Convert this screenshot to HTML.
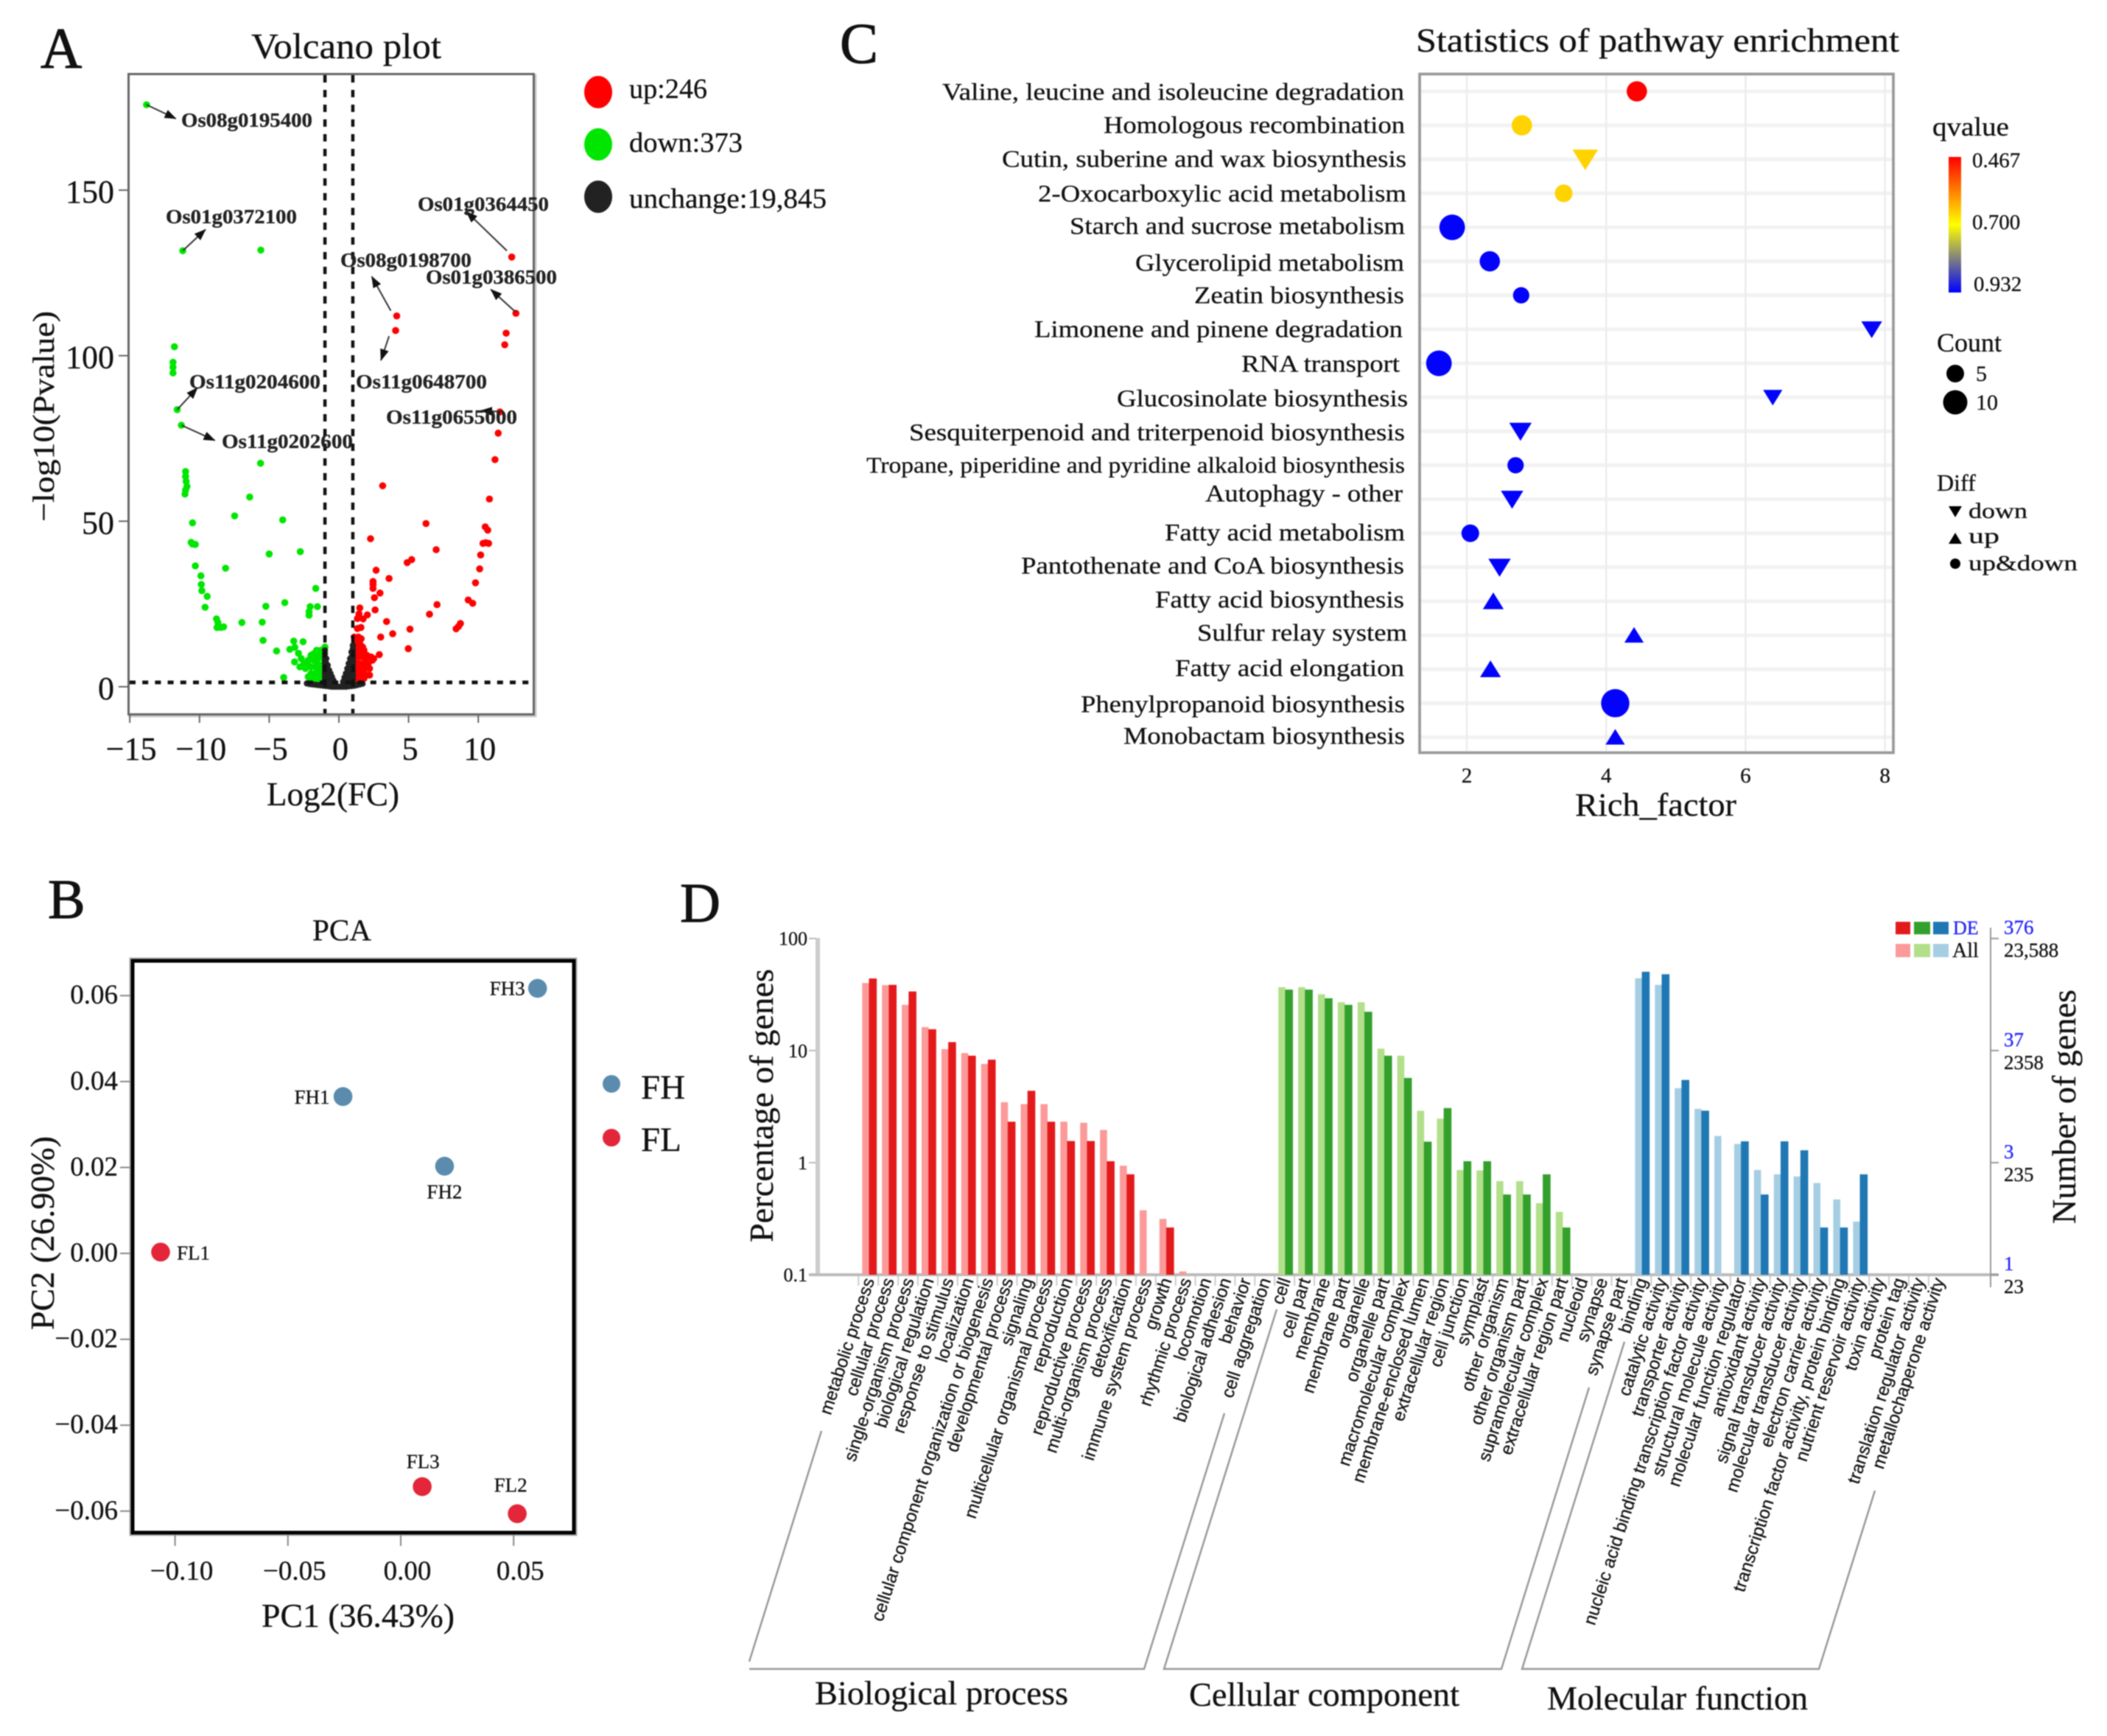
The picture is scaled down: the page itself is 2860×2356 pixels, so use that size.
<!DOCTYPE html>
<html lang="en">
<head>
<meta charset="utf-8">
<title>Transcriptome figure: volcano, PCA, pathway enrichment, GO classification</title>
<style>
html,body{margin:0;padding:0;background:#fff;width:2860px;height:2356px;overflow:hidden}
svg{display:block;filter:blur(0.7px);font-family:"Liberation Serif",serif}
text{fill:#111;stroke:#111;stroke-width:.3px}
.lab{font-weight:bold;font-size:27px;fill:#222}
.c{font-size:33px}
.go{font-family:"Liberation Sans",sans-serif;font-size:24px}
</style>
</head>
<body>
<svg id="fig" xmlns="http://www.w3.org/2000/svg" width="2860" height="2356" viewBox="0 0 2860 2356">
<defs>
<marker id="ah" markerWidth="16" markerHeight="12" refX="15" refY="6" orient="auto" markerUnits="userSpaceOnUse"><polygon points="0,0 16,6 0,12" fill="#111"/></marker>
<linearGradient id="qg" x1="0" y1="0" x2="0" y2="1"><stop offset="0" stop-color="#ff0000"/><stop offset="0.5" stop-color="#ffff00"/><stop offset="1" stop-color="#0000ff"/></linearGradient>
</defs>

<!-- Panel letters -->
<text x="55" y="92" font-size="78" style="stroke-width:1px">A</text>
<text x="65" y="1246" font-size="76" style="stroke-width:1px">B</text>
<text x="1140" y="85" font-size="78" style="stroke-width:1px">C</text>
<text x="923" y="1251" font-size="76" style="stroke-width:1px">D</text>

<!-- Panel A static -->
<g id="panelA">
<text x="341" y="79" font-size="49" textLength="258" lengthAdjust="spacingAndGlyphs">Volcano plot</text>
<rect x="176" y="102" width="551" height="870" fill="none" stroke="#ccc" stroke-width="3"/>
<rect x="174.5" y="100.5" width="550" height="869" fill="#fff" stroke="#666" stroke-width="3"/>
<text transform="translate(73,708) rotate(-90)" font-size="41" textLength="286" lengthAdjust="spacingAndGlyphs">−log10(Pvalue)</text>
<text x="362" y="1093" font-size="45" textLength="180" lengthAdjust="spacingAndGlyphs">Log2(FC)</text>
<ellipse cx="812" cy="125" rx="19" ry="22" fill="#ff0000"/>
<ellipse cx="812" cy="196" rx="19" ry="22" fill="#00e600"/>
<ellipse cx="812" cy="267" rx="19" ry="22" fill="#222"/>
<text x="854" y="133" font-size="38" textLength="106" lengthAdjust="spacingAndGlyphs">up:246</text>
<text x="854" y="206" font-size="38" textLength="154" lengthAdjust="spacingAndGlyphs">down:373</text>
<text x="854" y="282" font-size="38" textLength="268" lengthAdjust="spacingAndGlyphs">unchange:19,845</text>
</g>
<g id="volcanoMarks"></g>
<g id="volcanoLabels">
<text class="lab" x="246" y="172" textLength="178" lengthAdjust="spacingAndGlyphs">Os08g0195400</text>
<text class="lab" x="225" y="303" textLength="178" lengthAdjust="spacingAndGlyphs">Os01g0372100</text>
<text class="lab" x="567" y="286" textLength="178" lengthAdjust="spacingAndGlyphs">Os01g0364450</text>
<text class="lab" x="462" y="362" textLength="178" lengthAdjust="spacingAndGlyphs">Os08g0198700</text>
<text class="lab" x="578" y="385" textLength="178" lengthAdjust="spacingAndGlyphs">Os01g0386500</text>
<text class="lab" x="483" y="527" textLength="178" lengthAdjust="spacingAndGlyphs">Os11g0648700</text>
<text class="lab" x="257" y="527" textLength="178" lengthAdjust="spacingAndGlyphs">Os11g0204600</text>
<text class="lab" x="301" y="608" textLength="178" lengthAdjust="spacingAndGlyphs">Os11g0202600</text>
<text class="lab" x="524" y="575" textLength="178" lengthAdjust="spacingAndGlyphs">Os11g0655000</text>
</g>

<!-- Panel B static -->
<g id="panelB">
<text x="424" y="1276" font-size="41" textLength="80" lengthAdjust="spacingAndGlyphs">PCA</text>
<rect x="179" y="1303" width="601" height="778" fill="none" stroke="#aaa" stroke-width="7"/>
<rect x="180" y="1304" width="599" height="776" fill="#fff" stroke="#000" stroke-width="5"/>
<text transform="translate(73,1805) rotate(-90)" font-size="45" textLength="263" lengthAdjust="spacingAndGlyphs">PC2 (26.90%)</text>
<text x="355" y="2208" font-size="45" textLength="262" lengthAdjust="spacingAndGlyphs">PC1 (36.43%)</text>
<circle cx="830" cy="1471" r="12" fill="#5b8cad"/>
<circle cx="830" cy="1544" r="12" fill="#e3263a"/>
<text x="870" y="1491" font-size="47">FH</text>
<text x="870" y="1562" font-size="47">FL</text>
</g>
<g id="pcaMarks"></g>

<!-- Panel C static -->
<g id="panelC">
<text x="1922" y="70" font-size="46" textLength="656" lengthAdjust="spacingAndGlyphs">Statistics of pathway enrichment</text>
<rect x="1927" y="100.5" width="643" height="921" fill="#fff" stroke="#999" stroke-width="3.5"/>
<g id="pathwayGrid"></g>
<rect x="1927" y="100.5" width="643" height="921" fill="none" stroke="#999" stroke-width="3.5"/>
<g text-anchor="end" transform="translate(0,1.5)">
<text class="c" x="1906" y="134" textLength="627" lengthAdjust="spacingAndGlyphs">Valine, leucine and isoleucine degradation</text>
<text class="c" x="1907" y="179" textLength="409" lengthAdjust="spacingAndGlyphs">Homologous recombination</text>
<text class="c" x="1909" y="225" textLength="549" lengthAdjust="spacingAndGlyphs">Cutin, suberine and wax biosynthesis</text>
<text class="c" x="1909" y="272" textLength="500" lengthAdjust="spacingAndGlyphs">2-Oxocarboxylic acid metabolism</text>
<text class="c" x="1907" y="316" textLength="455" lengthAdjust="spacingAndGlyphs">Starch and sucrose metabolism</text>
<text class="c" x="1906" y="366" textLength="365" lengthAdjust="spacingAndGlyphs">Glycerolipid metabolism</text>
<text class="c" x="1906" y="410" textLength="285" lengthAdjust="spacingAndGlyphs">Zeatin biosynthesis</text>
<text class="c" x="1904" y="456" textLength="500" lengthAdjust="spacingAndGlyphs">Limonene and pinene degradation</text>
<text class="c" x="1900" y="503" textLength="215" lengthAdjust="spacingAndGlyphs">RNA transport</text>
<text class="c" x="1911" y="550" textLength="395" lengthAdjust="spacingAndGlyphs">Glucosinolate biosynthesis</text>
<text class="c" x="1907" y="596" textLength="673" lengthAdjust="spacingAndGlyphs">Sesquiterpenoid and triterpenoid biosynthesis</text>
<text class="c" style="font-size:31px" x="1907" y="640" textLength="731" lengthAdjust="spacingAndGlyphs">Tropane, piperidine and pyridine alkaloid biosynthesis</text>
<text class="c" x="1904" y="679" textLength="268" lengthAdjust="spacingAndGlyphs">Autophagy - other</text>
<text class="c" x="1907" y="732" textLength="326" lengthAdjust="spacingAndGlyphs">Fatty acid metabolism</text>
<text class="c" x="1906" y="777" textLength="520" lengthAdjust="spacingAndGlyphs">Pantothenate and CoA biosynthesis</text>
<text class="c" x="1906" y="823" textLength="338" lengthAdjust="spacingAndGlyphs">Fatty acid biosynthesis</text>
<text class="c" x="1910" y="868" textLength="285" lengthAdjust="spacingAndGlyphs">Sulfur relay system</text>
<text class="c" x="1906" y="916" textLength="311" lengthAdjust="spacingAndGlyphs">Fatty acid elongation</text>
<text class="c" x="1907" y="965" textLength="440" lengthAdjust="spacingAndGlyphs">Phenylpropanoid biosynthesis</text>
<text class="c" x="1907" y="1008" textLength="382" lengthAdjust="spacingAndGlyphs">Monobactam biosynthesis</text>
</g>
<text x="2138" y="1107" font-size="44" textLength="219" lengthAdjust="spacingAndGlyphs">Rich_factor</text>
<text x="2623" y="184" font-size="36" textLength="104" lengthAdjust="spacingAndGlyphs">qvalue</text>
<rect x="2645" y="213" width="17" height="184" fill="url(#qg)"/>
<text x="2677" y="227" font-size="29">0.467</text>
<text x="2677" y="311" font-size="29">0.700</text>
<text x="2679" y="395" font-size="29">0.932</text>
<text x="2629" y="477" font-size="36">Count</text>
<circle cx="2654" cy="507" r="12" fill="#000"/>
<circle cx="2654" cy="546" r="16.5" fill="#000"/>
<text x="2682" y="517" font-size="30">5</text>
<text x="2682" y="556" font-size="30">10</text>
<text x="2629" y="666" font-size="32">Diff</text>
<polygon points="2645,687 2663,687 2654,702" fill="#000"/>
<polygon points="2645,738 2663,738 2654,723" fill="#000"/>
<circle cx="2654" cy="765" r="7" fill="#000"/>
<text x="2672" y="703" font-size="30" textLength="80" lengthAdjust="spacingAndGlyphs">down</text>
<text x="2672" y="737" font-size="30" textLength="42" lengthAdjust="spacingAndGlyphs">up</text>
<text x="2672" y="774" font-size="30" textLength="148" lengthAdjust="spacingAndGlyphs">up&amp;down</text>
</g>
<g id="pathwayMarks"></g>

<!-- Panel D static -->
<g id="panelD">
<text transform="translate(1049,1686) rotate(-90)" font-size="45" textLength="371" lengthAdjust="spacingAndGlyphs">Percentage of genes</text>
<text transform="translate(2817,1661) rotate(-90)" font-size="46" textLength="318" lengthAdjust="spacingAndGlyphs">Number of genes</text>
<rect x="1107" y="1273" width="6" height="459" fill="#ccc"/>
<rect x="1098" y="1728" width="1615" height="4" fill="#bbb"/>
<rect x="2701" y="1259" width="2" height="488" fill="#999"/>
<g>
<rect x="2573" y="1251" width="20" height="17" fill="#e31a1c"/>
<rect x="2598" y="1251" width="22" height="17" fill="#33a02c"/>
<rect x="2624" y="1251" width="21" height="17" fill="#1f78b4"/>
<rect x="2573" y="1281" width="20" height="18" fill="#fb9a99"/>
<rect x="2598" y="1281" width="22" height="18" fill="#b2df8a"/>
<rect x="2624" y="1281" width="21" height="18" fill="#a6cee3"/>
<text x="2651" y="1268" font-size="26" style="fill:#2222ff;stroke:#2222ff">DE</text>
<text x="2650" y="1299" font-size="28">All</text>
</g>
<path d="M1115,1942 L1017,2255 M1017,2265 L1553,2265 L1662,1918" fill="none" stroke="#999" stroke-width="2.5"/>
<path d="M1733,1777 L1580,2265 L2038,2265 L2157,1883" fill="none" stroke="#999" stroke-width="2.5"/>
<path d="M2205,1821 L2066,2265 L2469,2265 L2545,2023" fill="none" stroke="#999" stroke-width="2.5"/>
<text x="1106" y="2313" font-size="46" textLength="344" lengthAdjust="spacingAndGlyphs">Biological process</text>
<text x="1614" y="2315" font-size="46" textLength="367" lengthAdjust="spacingAndGlyphs">Cellular component</text>
<text x="2100" y="2320" font-size="46" textLength="354" lengthAdjust="spacingAndGlyphs">Molecular function</text>
</g>
<g id="goMarks"></g>
</svg>

<script>
/* ---------- Panel A data ---------- */
const volcanoXTicks = [-15, -10, -5, 0, 5, 10];
const volcanoYTicks = [0, 50, 100, 150];
const volcanoThresholdFC = [-1, 1];
const volcanoThresholdP = 1.3;
const downGenes = [[-13.8,175.8],[-11.2,131.7],[-5.6,131.9],[-11.8,102.7],[-11.9,98],[-11.9,96.5],[-11.9,94.8],[-11.6,83.7],[-11.3,79],
[-5.62,67.5],[-11,65],[-11,63.5],[-10.96,62],[-10.9,60.5],[-11,59.4],[-11.04,58.2],[-6.4,57.3],[-7.48,51.6],[-4.03,50.4],[-10.5,49.5],
[-10.6,43.6],[-10.5,43.1],[-10.3,43],[-2.77,40.8],[-5,40.1],[-10.3,36.5],[-8.13,35.8],[-9.9,33.5],[-9.87,30.9],[-9.83,29],[-9.45,27.3],
[-9.6,24],[-1.66,29.7],[-3.88,25.4],[-5.24,24.3],[-1.54,24.2],[-2.06,24.2],[-2.14,22.7],[-2.14,21.6],[-8.78,20.5],[-8.68,19.4],[-8.74,17.9],
[-8.47,17.9],[-8.27,18.1],[-6.96,19.4],[-5.5,19.5],[-5.44,14],[-4.47,10.8],[-3.24,13.8],[-2.57,13.6],[-3.52,11.3],[-3.16,11.9],[-2.9,10.1],
[-3.18,7.5],[-3.96,2.8],[-1,12],[-1.1,11],[-1.3,11],[-1.5,10],[-1.8,10],[-2,9.5],[-1.2,9],[-1.5,8.5],[-1.8,8],[-2.2,8],[-2.5,7],[-1.1,7],
[-1.4,6.5],[-1.7,6],[-2,6],[-2.4,5.5],[-1.1,5],[-1.4,4.5],[-1.7,4],[-2,4],[-2.2,3],[-1.1,3],[-1.4,2.5],[-1.7,2.5],[-2,2],[-1.2,1.7],[-1.5,1.6],
[-1.8,1.6],[-1.1,10],[-1.6,11],[-2.2,6.5],[-1.6,7.5],[-1.3,4],[-1.9,3],[-2.7,8.5],[-2.8,6]];
const upGenes = [[12.4,129.8],[12.7,112.8],[4.15,112],[4.07,107.6],[12,106.8],[11.9,103.3],[11.55,83],[11.43,76.6],[11.2,68.6],
[3.14,60.7],[10.8,56.7],[6.25,49.3],[10.5,48.3],[10.68,47.3],[10.34,43.3],[10.54,43.5],[10.74,43.3],[2.27,44.7],[6.98,41.4],[5.22,38.4],[4.9,37.5],
[10.17,39.8],[10.1,35.6],[2.67,35.2],[3.6,32.7],[2.45,31.8],[2.45,30.9],[2.45,29.7],[9.8,31.4],[2.95,28.3],[2.55,26.9],[9.28,26.2],[9.6,25.2],
[7.04,24.8],[6.5,21.9],[2.6,23.2],[1.5,23.8],[1.44,22],[2.04,21.7],[1.74,20.5],[1.33,20.6],[3.42,19.7],[8.72,19.1],[8.58,18.2],[8.41,17.5],
[5.1,17.4],[3.86,16],[1.33,17.6],[1.58,17.9],[3,15],[4.98,11.5],[2.9,9.7],[1.1,15],[1.4,15],[1.6,14.5],[1.2,13.5],[1.5,13],[1.7,12],[1.2,12],
[1.4,11],[1.8,11],[1.1,11],[1.6,10],[2,9.5],[2.3,9],[1.2,9.5],[1.5,9],[1.9,8.5],[2.4,8],[1.1,8],[1.4,7],[1.7,7],[2.1,7],[2.5,8.5],[1.2,6],[1.5,5.5],
[1.9,5.5],[2.2,5.5],[1.1,4.5],[1.4,4],[1.7,4],[2,3.5],[2.2,3.5],[1.2,3],[1.5,2.5],[1.8,2.5],[1.1,2],[1.4,1.8]];
const unchangedGenes = [[-2.3,1],[-2.1,.8],[-1.9,.7],[-1.7,.6],[-1.5,.5],[-1.3,.4],[-1.1,.3],[-.9,.2],[-.7,.1],[-.5,0],[-.3,0],[-.1,0],[.1,0],[.3,0],[.5,0],[.7,.1],[.9,.2],[1.1,.3],[1.3,.5],[1.5,.7],[1.7,.9],
[-1,11],[-1,10],[-1,9],[-1,8],[-1,7],[-1,6],[-1,5],[-1,4],[-1,3],[-1,2],[-1,1],[-.9,8.5],[-.9,7],[-.9,5.5],[-.9,4],[-.9,2.5],[-.9,1],[-.8,6.5],[-.8,5],[-.8,3.5],[-.8,2],[-.8,1],[-.7,5],[-.7,3.5],[-.7,2],[-.7,1],[-.6,4],[-.6,2.5],[-.6,1.2],[-.5,3],[-.5,1.8],[-.4,2],[-.4,1],[-.3,1.2],
[1,12.5],[1,11.5],[1,10.5],[1,9.5],[1,8.5],[1,7.5],[1,6.5],[1,5.5],[1,4.5],[1,3.5],[1,2.5],[1,1.5],[.9,10.5],[.9,9],[.9,7.5],[.9,6],[.9,4.5],[.9,3],[.9,1.5],[.8,8.5],[.8,7],[.8,5.5],[.8,4],[.8,2.5],[.8,1],[.7,7],[.7,5.5],[.7,4],[.7,2.5],[.7,1],[.6,5.5],[.6,4],[.6,2.5],[.6,1],[.5,4],[.5,2.5],[.5,1],[.4,2.8],[.4,1.5],[.3,1.5]];
const arrowStarts = [[-13.8,175.8],[-11.2,131.7],[12.05,131.7],[3.72,113.6],[12.7,113.1],[3.6,105.9],[-11.6,83.7],[-11.3,79],[11.55,83.1]];
const arrowTips = [[-11.7,171.6],[-9.57,138.1],[9.15,143.5],[2.36,123.9],[10.9,120],[3.02,98.6],[-10.15,90.3],[-8.9,74.4],[10.2,83.4]];

/* ---------- Panel B data ---------- */
const pcaXTicks = [-0.10, -0.05, 0.00, 0.05];
const pcaYTicks = [0.06, 0.04, 0.02, 0.00, -0.02, -0.04, -0.06];
const pcaSamples = ['FH3', 'FH1', 'FH2', 'FL1', 'FL3', 'FL2'];
const pcaPC1 = [0.0606, -0.0256, 0.0194, -0.1064, 0.0095, 0.0516];
const pcaPC2 = [0.0617, 0.0365, 0.0203, 0.0003, -0.0543, -0.0606];
const pcaGroup = ['FH', 'FH', 'FH', 'FL', 'FL', 'FL'];

/* ---------- Panel C data ---------- */
const richTicks = [2, 4, 6, 8];
const richFactor = [4.44,2.79,3.7,3.39,1.79,2.33,2.78,7.81,1.6,6.39,2.77,2.7,2.65,2.05,2.47,2.38,4.4,2.34,4.13,4.13];
const pathwayCount = [7,7,8,5,11,7,4,5,11,4,6,4,6,5,6,5,4,5,13,4];
const pathwayQ = [0.467,0.66,0.66,0.66,0.93,0.93,0.93,0.93,0.93,0.93,0.93,0.93,0.93,0.93,0.93,0.93,0.93,0.93,0.93,0.93];
const pathwayDiff = ['both','both','down','both','both','both','both','down','both','down','down','both','down','both','down','up','up','up','both','up'];

/* ---------- Panel D data ---------- */
const goLeftTicks = [100, 10, 1, 0.1];
const goLeftTickLabels = ['100', '10', '1', '0.1'];
const goDeTickLabels = ['376', '37', '3', '1'];
const goAllTickLabels = ['23,588', '2358', '235', '23'];
const goCategories = ['metabolic process','cellular process','single-organism process','biological regulation','response to stimulus','localization','cellular component organization or biogenesis','developmental process','signaling','multicellular organismal process','reproduction','reproductive process','multi-organism process','detoxification','immune system process','growth','rhythmic process','locomotion','biological adhesion','behavior','cell aggregation',
'cell','cell part','membrane','membrane part','organelle','organelle part','macromolecular complex','membrane-enclosed lumen','extracellular region','cell junction','symplast','other organism','other organism part','supramolecular complex','extracellular region part','nucleoid','synapse','synapse part',
'binding','catalytic activity','transporter activity','nucleic acid binding transcription factor activity','structural molecule activity','molecular function regulator','antioxidant activity','signal transducer activity','molecular transducer activity','electron carrier activity','transcription factor activity, protein binding','nutrient reservoir activity','toxin activity','protein tag','translation regulator activity','metallochaperone activity'];
const goAllPct = [40.1,38.4,25.6,16.2,10.3,9.5,7.6,3.46,3.33,3.33,2.32,2.27,1.96,0.94,0.376,0.315,0.107,null,null,null,null,
36.8,36.8,31.8,27,27,10.4,9,2.9,2.47,0.861,0.853,0.684,0.684,0.435,0.364,null,null,null,
44.2,38.6,4.62,3.02,1.73,1.47,0.861,0.787,0.753,0.658,0.47,0.298,null,null,null,null];
const goDePct = [44,38.6,33.7,15.5,11.9,9,8.3,2.32,4.38,2.32,1.56,1.56,1.03,0.787,null,0.264,null,null,null,null,null,
35,35,29.3,25.6,22.2,9,5.7,1.54,3.07,1.03,1.03,0.52,0.52,0.787,0.264,null,null,null,
50.5,48,5.47,2.91,null,1.55,0.52,1.55,1.29,0.264,0.264,0.787,null,null,null,null];
const goDomainStart = [0, 21, 39];
const goLightColors = ['#fb9a99', '#b2df8a', '#a6cee3'];
const goDarkColors = ['#e31a1c', '#33a02c', '#1f78b4'];

/* ---------- helpers ---------- */
const NS = 'http://www.w3.org/2000/svg';
function el(tag, parent, attrs) {
  const e = document.createElementNS(NS, tag);
  for (const k in attrs) e.setAttribute(k, attrs[k]);
  parent.appendChild(e);
  return e;
}
function fmt(v, d) { return (v < 0 ? '\u2212' : '') + Math.abs(v).toFixed(d); }

/* ---------- Panel A ---------- */
const vx = v => 460 + v * 18.92;
const vy = v => 932 - v * 4.493;
const gV = document.getElementById('volcanoMarks');
volcanoXTicks.forEach(t => {
  const l = el('line', gV, {x1: vx(t), x2: vx(t), y1: 970, y2: 981, stroke: '#666', 'stroke-width': 2});
  
  
  const s = el('text', gV, {x: vx(t) + 2, y: 1031, 'font-size': 44, 'text-anchor': 'middle'});
  
  
  s.textContent = fmt(t, 0);
});
volcanoYTicks.forEach(t => {
  const l = el('line', gV, {x1: 161, x2: 174, y1: vy(t), y2: vy(t), stroke: '#666', 'stroke-width': 2});
  
  
  const s = el('text', gV, {x: 155, y: vy(t) + 17, 'font-size': 44, 'text-anchor': 'end'});
  
  
  s.textContent = fmt(t, 0);
});
downGenes.forEach(p => {
  const c = el('circle', gV, {cx: vx(p[0]), cy: vy(p[1]), r: 4.8, fill: '#00e600'});
  
  
});
upGenes.forEach(p => {
  const c = el('circle', gV, {cx: vx(p[0]), cy: vy(p[1]), r: 4.8, fill: '#ff0000'});
  
  
});
unchangedGenes.forEach(p => {
  const c = el('circle', gV, {cx: vx(p[0]), cy: vy(p[1]), r: 4.2, fill: '#222'});
  
  
});
volcanoThresholdFC.forEach(t => {
  const l = el('line', gV, {x1: vx(t), x2: vx(t), y1: 102, y2: 968, stroke: '#111', 'stroke-width': 4.5, 'stroke-dasharray': '10 10'});
  
  
});
const pLine = el('line', gV, {x1: 176, x2: 718, y1: vy(volcanoThresholdP), y2: vy(volcanoThresholdP), stroke: '#111', 'stroke-width': 5, 'stroke-dasharray': '8 9.2'});


arrowStarts.forEach((a, i) => {
  const b = arrowTips[i];
  const l = el('line', gV, {x1: vx(a[0]), y1: vy(a[1]), x2: vx(b[0]), y2: vy(b[1]), stroke: '#333', 'stroke-width': 2, 'marker-end': 'url(#ah)'});
  
  
});

/* ---------- Panel B ---------- */
const px = v => 544 + v * 3064;
const py = v => 1701 - v * 5830;
const gP = document.getElementById('pcaMarks');
pcaXTicks.forEach(t => {
  const l = el('line', gP, {x1: px(t), x2: px(t), y1: 2083, y2: 2098, stroke: '#888', 'stroke-width': 2});
  
  
  const s = el('text', gP, {x: px(t) + 9, y: 2144, 'font-size': 37, 'text-anchor': 'middle'});
  
  
  s.textContent = fmt(t, 2);
});
pcaYTicks.forEach(t => {
  const l = el('line', gP, {x1: 163, x2: 177, y1: py(t), y2: py(t), stroke: '#888', 'stroke-width': 2});
  
  
  const s = el('text', gP, {x: 160, y: py(t) + 11, 'font-size': 37, 'text-anchor': 'end'});
  
  
  s.textContent = fmt(t, 2);
});
const pcaLabelPlace = {FH3: [-17, 9, 'end'], FH1: [-18, 10, 'end'], FH2: [0, 44, 'middle'], FL1: [22, 10, 'start'], FL3: [1, -25, 'middle'], FL2: [-9, -30, 'middle']};
pcaSamples.forEach((name, i) => {
  const c = el('circle', gP, {cx: px(pcaPC1[i]), cy: py(pcaPC2[i]), r: 12.8, fill: pcaGroup[i] === 'FH' ? '#5b8cad' : '#e3263a'});
  
  
  const o = pcaLabelPlace[name];
  const s = el('text', gP, {x: px(pcaPC1[i]) + o[0], y: py(pcaPC2[i]) + o[1], 'font-size': 27, 'text-anchor': o[2]});
  
  
  s.textContent = name;
});

/* ---------- Panel C ---------- */
const rx = v => 1991 + (v - 2) * 94.6;
const rowY = i => 124 + i * 46.13;
function qColor(q) {
  const m = (a, b, t) => Math.round(a + (b - a) * t);
  if (q <= 0.7) { const t = (q - 0.467) / 0.233; return 'rgb(255,' + m(0, 255, t) + ',0)'; }
  const t = (q - 0.7) / 0.232;
  return 'rgb(' + m(255, 0, t) + ',' + m(255, 0, t) + ',' + m(0, 255, t) + ')';
}
const gG = document.getElementById('pathwayGrid');
richFactor.forEach((_, i) => {
  const l = el('line', gG, {x1: 1929, x2: 2568, y1: rowY(i), y2: rowY(i), stroke: '#f2f2f2', 'stroke-width': 5});
  
  
});
richTicks.forEach(t => {
  const l = el('line', gG, {x1: rx(t), x2: rx(t), y1: 102, y2: 1020, stroke: '#ececec', 'stroke-width': 2.5});
  
  
});
const gC = document.getElementById('pathwayMarks');
richTicks.forEach(t => {
  const s = el('text', gC, {x: rx(t), y: 1062, 'font-size': 29, 'text-anchor': 'middle'});
  
  
  s.textContent = String(t);
});
richFactor.forEach((v, i) => {
  const x = rx(v), y = rowY(i), r = 7.5 + 0.9 * pathwayCount[i], col = qColor(pathwayQ[i]);
  let m;
  if (pathwayDiff[i] === 'both') {
    m = el('circle', gC, {cx: x, cy: y, r: r, fill: col});
  } else if (pathwayDiff[i] === 'down') {
    m = el('polygon', gC, {points: [x - r * 1.18, y - r * 0.9, x + r * 1.18, y - r * 0.9, x, y + r * 1.0].join(','), fill: col});
  } else {
    m = el('polygon', gC, {points: [x - r * 1.18, y + r * 0.9, x + r * 1.18, y + r * 0.9, x, y - r * 1.0].join(','), fill: col});
  }
  
  
});

/* ---------- Panel D ---------- */
const goY = v => 1730 - (Math.log10(v) + 1) * 152.1;
const goX = i => 1170.3 + i * 26.9;
const gD = document.getElementById('goMarks');
goLeftTicks.forEach((t, i) => {
  const l = el('line', gD, {x1: 1098, x2: 1108, y1: goY(t), y2: goY(t), stroke: '#bbb', 'stroke-width': 2});
  
  
  const s = el('text', gD, {x: 1096, y: goY(t) + 9, 'font-size': 26, 'text-anchor': 'end'});
  
  
  s.textContent = goLeftTickLabels[i];
  const r = el('line', gD, {x1: 2702, x2: 2713, y1: goY(t), y2: goY(t), stroke: '#999', 'stroke-width': 2});
  
  
  const a = el('text', gD, {x: 2720, y: goY(t) - 6, 'font-size': 27, style: 'fill:#2222ff;stroke:#2222ff'});
  
  
  a.textContent = goDeTickLabels[i];
  const b = el('text', gD, {x: 2720, y: goY(t) + 25, 'font-size': 27});
  
  
  b.textContent = goAllTickLabels[i];
});
goCategories.forEach((name, i) => {
  const dom = i >= goDomainStart[2] ? 2 : i >= goDomainStart[1] ? 1 : 0;
  const x = goX(i);
  const t = el('line', gD, {x1: x - 5, x2: x - 5, y1: 1732, y2: 1745, stroke: '#ccc', 'stroke-width': 2});
  
  
  if (goAllPct[i] !== null) {
    const b = el('rect', gD, {x: x, y: goY(goAllPct[i]), width: 9.6, height: 1730 - goY(goAllPct[i]), fill: goLightColors[dom]});
    
    
  }
  if (goDePct[i] !== null) {
    const b = el('rect', gD, {x: x + 9.2, y: goY(goDePct[i]), width: 10.6, height: 1730 - goY(goDePct[i]), fill: goDarkColors[dom]});
    
    
  }
  const ax = x + 9.3, ay = 1735;
  const s = el('text', gD, {class: 'go', x: 0, y: 8, 'text-anchor': 'end', transform: 'translate(' + ax + ',' + ay + ') rotate(-72)'});
  
  
  s.textContent = name;
});
</script>
</body>
</html>
